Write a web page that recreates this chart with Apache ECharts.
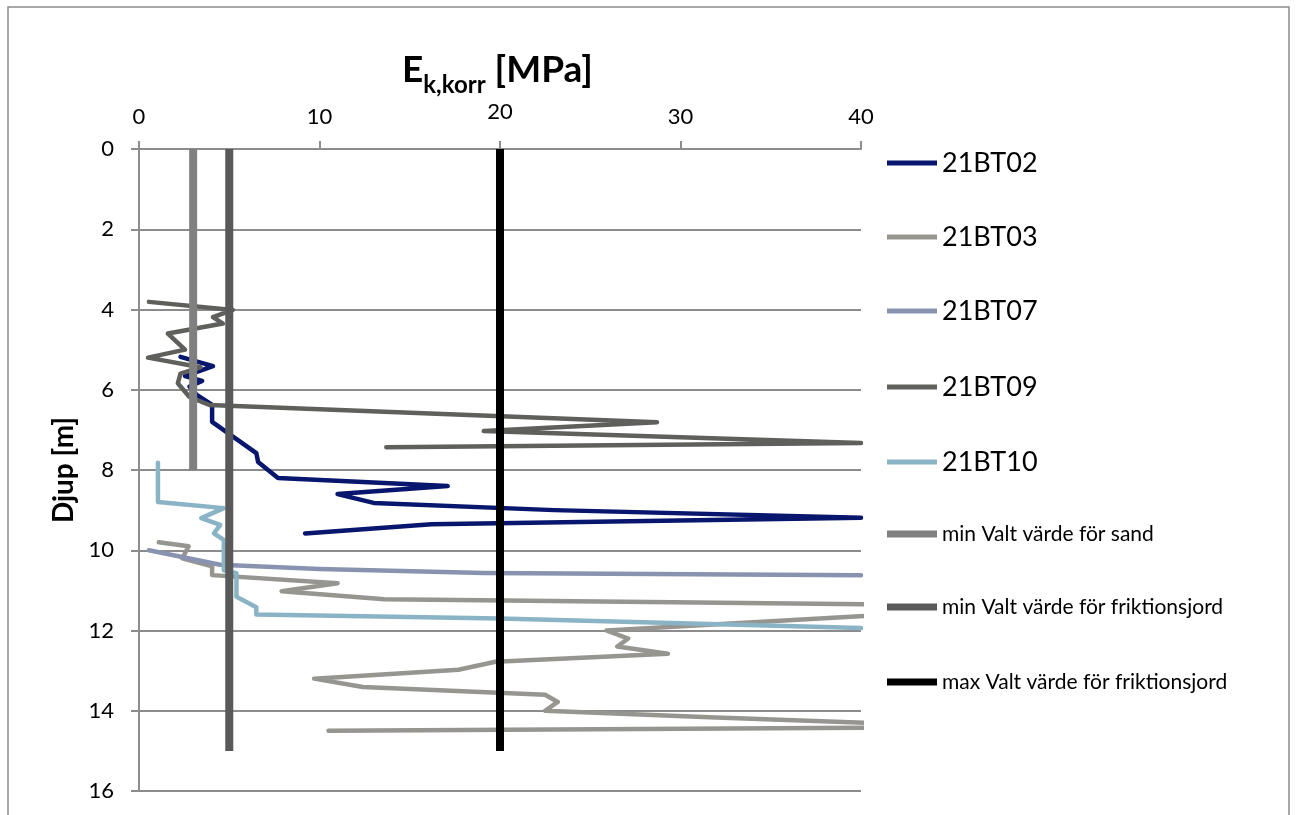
<!DOCTYPE html>
<html>
<head>
<meta charset="utf-8">
<script src="https://cdn.jsdelivr.net/npm/echarts@6/dist/echarts.min.js"></script>
<style>
html,body{margin:0;padding:0;background:#fff;}
#chart{width:1301px;height:815px;}
</style>
</head>
<body>
<div id="chart"></div>
<script>
// ---- data (E-value [MPa], depth [m]) ----
const xTicks = [0, 10, 20, 30, 40];
const yTicks = [0, 2, 4, 6, 8, 10, 12, 14, 16];

const bt02E = [2.3, 4.1, 2.55, 3.5, 2.8, 3.2, 4.05, 4.05, 6.5, 6.6, 7.7, 17.1, 11.0, 13.0, 23.0, 40, 16.2, 9.2];
const bt02D = [5.18, 5.41, 5.66, 5.78, 5.92, 6.13, 6.38, 6.8, 7.58, 7.8, 8.2, 8.4, 8.6, 8.82, 9.0, 9.19, 9.35, 9.58];

const bt03E = [1.1, 2.75, 2.4, 4.05, 4.05, 11.0, 7.9, 13.6, 41, 41, 25.9, 27.1, 26.5, 29.3, 19.75, 17.7, 9.7, 12.4, 22.5, 23.2, 22.5, 31.6, 41, 41, 10.5];
const bt03D = [9.8, 9.9, 10.2, 10.4, 10.62, 10.82, 11.02, 11.22, 11.35, 11.62, 12.0, 12.2, 12.4, 12.58, 12.78, 12.98, 13.2, 13.41, 13.6, 13.78, 14.0, 14.16, 14.31, 14.42, 14.5];

const bt07E = [0.55, 4.5, 10, 19.1, 40];
const bt07D = [10.0, 10.36, 10.47, 10.57, 10.62];

const bt09E = [0.55, 5.2, 4.1, 4.65, 1.6, 2.55, 0.5, 3.4, 2.3, 2.15, 2.8, 3.9, 28.7, 19.1, 40, 13.7];
const bt09D = [3.81, 4.01, 4.19, 4.35, 4.6, 5.0, 5.2, 5.44, 5.6, 5.84, 6.18, 6.38, 6.81, 7.03, 7.33, 7.43];

const bt10E = [1.05, 1.05, 4.7, 3.45, 4.5, 4.15, 4.7, 4.7, 5.4, 5.4, 6.5, 6.5, 20, 40];
const bt10D = [7.82, 8.8, 8.95, 9.2, 9.37, 9.58, 9.74, 10.5, 10.57, 11.16, 11.42, 11.6, 11.7, 11.94];

const sandE = [3, 3];
const sandD = [0, 8];
const minFrE = [5, 5];
const minFrD = [0, 15];
const maxFrE = [20, 20];
const maxFrD = [0, 15];

const names = ['21BT02', '21BT03', '21BT07', '21BT09', '21BT10',
  'min Valt värde för sand', 'min Valt värde för friktionsjord', 'max Valt värde för friktionsjord'];
const colors = ['#08166e', '#979590', '#8893b0', '#5f605b', '#8ab4c6', '#808080', '#595959', '#000000'];

function zip(E, D) { return E.map((e, i) => [e, D[i]]); }

const FONT = 'Lato';
const dataSets = [zip(bt02E, bt02D), zip(bt03E, bt03D), zip(bt07E, bt07D), zip(bt09E, bt09D),
  zip(bt10E, bt10D), zip(sandE, sandD), zip(minFrE, minFrD), zip(maxFrE, maxFrD)];

const series = dataSets.map((d, i) => ({
  name: names[i],
  type: 'line',
  data: d,
  symbol: 'none',
  clip: true,
  lineStyle: { width: i < 5 ? 4.5 : 8, color: colors[i], cap: i < 5 ? 'round' : 'butt', join: 'round' },
  itemStyle: { color: colors[i] },
  z: 2 + i
}));

const legendCenters = [163, 237, 311, 387, 462, 534, 607, 682];
const legends = names.map((n, i) => ({
  show: true,
  left: 887,
  top: legendCenters[i] - 15,
  padding: 0,
  icon: 'rect',
  itemWidth: 50,
  itemHeight: i < 5 ? 5 : 7,
  selectedMode: false,
  data: [{ name: n }],
  textStyle: { fontFamily: FONT, fontSize: i < 5 ? 27 : 21, color: '#000', lineHeight: 30 }
}));

const chart = echarts.init(document.getElementById('chart'));
chart.setOption({
  animation: false,
  backgroundColor: '#fff',
  title: {
    text: '{a|E}{b|k,korr}{a| [MPa]}',
    left: 397,
    top: 47,
    textStyle: {
      rich: {
        a: { fontFamily: FONT, fontSize: 37, fontWeight: 'bold', color: '#000', lineHeight: 45, verticalAlign: 'top' },
        b: { fontFamily: FONT, fontSize: 24, fontWeight: 'bold', color: '#000', lineHeight: 45, verticalAlign: 'bottom' }
      }
    }
  },
  graphic: [{
    type: 'rect',
    shape: { x: 8, y: 7, width: 1281, height: 900 },
    style: { fill: 'none', stroke: '#8c8c8c', lineWidth: 1.5 },
    silent: true
  }],
  legend: legends,
  grid: { left: 139, top: 149, width: 722, height: 642, outerBoundsMode: 'none' },
  xAxis: {
    type: 'value',
    position: 'top',
    min: xTicks[0],
    max: xTicks[xTicks.length - 1],
    interval: 10,
    axisLine: { show: true, lineStyle: { color: '#8c8c8c', width: 2 } },
    axisTick: { show: true, inside: false, length: 8, lineStyle: { color: '#8c8c8c', width: 2 } },
    splitLine: { show: false },
    axisLabel: {
      margin: 21,
      fontFamily: FONT, fontSize: 22, color: '#000',
      formatter: v => v === 20 ? '{up|20}' : String(v),
      rich: { up: { fontFamily: FONT, fontSize: 22, color: '#000', padding: [0, 0, 5, 0] } }
    }
  },
  yAxis: {
    type: 'value',
    inverse: true,
    min: yTicks[0],
    max: yTicks[yTicks.length - 1],
    interval: 2,
    name: 'Djup [m]',
    nameLocation: 'middle',
    nameGap: 60,
    nameTextStyle: { fontFamily: FONT, fontSize: 28, fontWeight: 'bold', color: '#000' },
    axisLine: { show: true, lineStyle: { color: '#8c8c8c', width: 2 } },
    axisTick: { show: true, inside: false, length: 8, lineStyle: { color: '#8c8c8c', width: 2 } },
    splitLine: { show: true, lineStyle: { color: '#8c8c8c', width: 2 } },
    axisLabel: { margin: 25, fontFamily: FONT, fontSize: 22, color: '#000' }
  },
  series: series
});
</script>
</body>
</html>
